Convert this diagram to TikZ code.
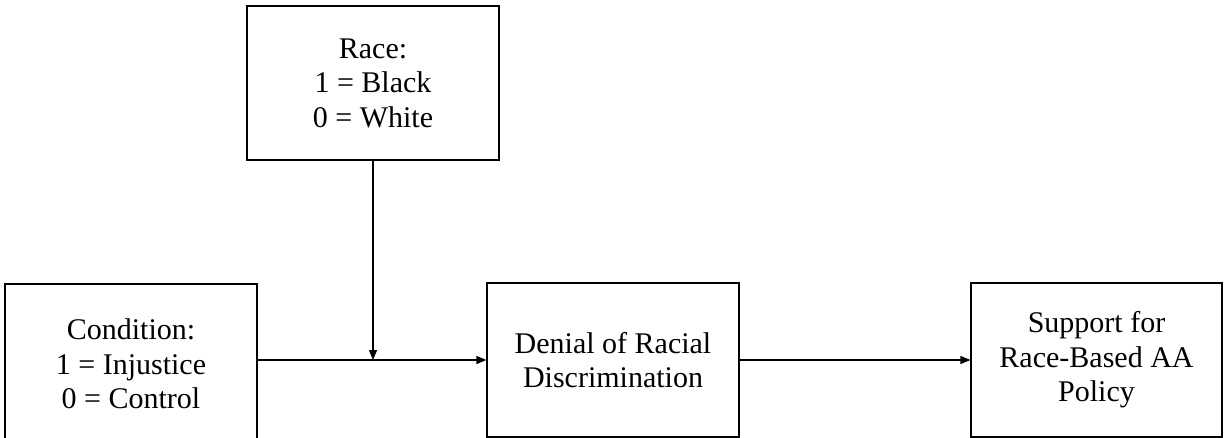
\documentclass[tikz,border=0pt]{standalone}
\usepackage{fontspec}
\setmainfont{Liberation Serif}
\usetikzlibrary{arrows.meta}
\begin{document}
\begin{tikzpicture}[x=1pt,y=-1pt,
  box/.style={draw, line width=1.2pt, align=center, inner sep=0pt,
    font=\fontsize{30}{34.5}\selectfont},
  conn/.style={line width=1.2pt, -{Triangle[length=10pt,width=8pt]}}]
\useasboundingbox (0,0) rectangle (1225,438);
\clip (0,0) rectangle (1225,438);
\node[box, minimum width=252pt, minimum height=154pt] (race) at (373,83) {Race:\\1 = Black\\0 = White};
\node[box, minimum width=252pt, minimum height=160pt] (cond) at (131,364) {Condition:\\1 = Injustice\\0 = Control};
\node[box, minimum width=252pt, minimum height=154pt] (denial) at (613,360) {Denial of Racial\\Discrimination};
\node[box, minimum width=251pt, minimum height=154pt] (support) at (1096.5,360) {Support for\\Race-Based AA\\Policy};
\coordinate (meet) at (race.south |- denial.west);
\draw[conn] (cond.east |- denial.west) -- (denial.west);
\draw[conn] (race.south) -- (meet);
\draw[conn] (denial.east) -- (support.west);
\end{tikzpicture}
\end{document}
